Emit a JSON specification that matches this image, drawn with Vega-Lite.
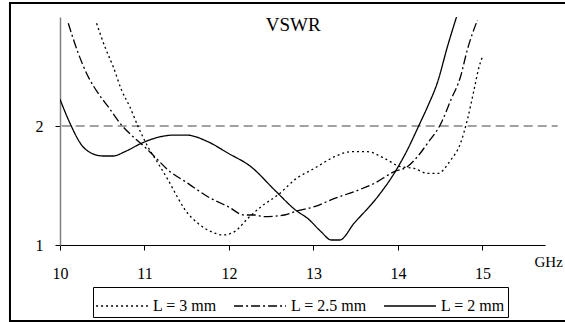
{
  "$schema": "https://vega.github.io/schema/vega-lite/v6.json",
  "width": 485,
  "height": 228,
  "autosize": "none",
  "padding": {"left": 60, "top": 17, "right": 20, "bottom": 77},
  "background": "white",
  "config": {
    "view": {"stroke": null},
    "font": "Liberation Serif",
    "axis": {"labelFont": "Liberation Serif", "titleFont": "Liberation Serif", "labelFontSize": 16, "titleFontSize": 15, "titleFontWeight": "normal", "labelColor": "black", "titleColor": "black"},
    "legend": {"labelFont": "Liberation Serif", "labelFontSize": 16, "labelColor": "black"}
  },
  "datasets": {
    "curves": [
      {"f": 10.433, "v": 2.863, "s": "L = 3 mm"},
      {"f": 10.531, "v": 2.666, "s": "L = 3 mm"},
      {"f": 10.63, "v": 2.498, "s": "L = 3 mm"},
      {"f": 10.728, "v": 2.303, "s": "L = 3 mm"},
      {"f": 10.826, "v": 2.162, "s": "L = 3 mm"},
      {"f": 10.925, "v": 1.994, "s": "L = 3 mm"},
      {"f": 11.04, "v": 1.826, "s": "L = 3 mm"},
      {"f": 11.16, "v": 1.687, "s": "L = 3 mm"},
      {"f": 11.28, "v": 1.546, "s": "L = 3 mm"},
      {"f": 11.4, "v": 1.39, "s": "L = 3 mm"},
      {"f": 11.476, "v": 1.3, "s": "L = 3 mm"},
      {"f": 11.633, "v": 1.182, "s": "L = 3 mm"},
      {"f": 11.79, "v": 1.112, "s": "L = 3 mm"},
      {"f": 11.93, "v": 1.084, "s": "L = 3 mm"},
      {"f": 12.066, "v": 1.112, "s": "L = 3 mm"},
      {"f": 12.223, "v": 1.224, "s": "L = 3 mm"},
      {"f": 12.38, "v": 1.322, "s": "L = 3 mm"},
      {"f": 12.577, "v": 1.42, "s": "L = 3 mm"},
      {"f": 12.8, "v": 1.56, "s": "L = 3 mm"},
      {"f": 13.01, "v": 1.644, "s": "L = 3 mm"},
      {"f": 13.25, "v": 1.742, "s": "L = 3 mm"},
      {"f": 13.44, "v": 1.784, "s": "L = 3 mm"},
      {"f": 13.64, "v": 1.784, "s": "L = 3 mm"},
      {"f": 13.84, "v": 1.728, "s": "L = 3 mm"},
      {"f": 14.03, "v": 1.658, "s": "L = 3 mm"},
      {"f": 14.19, "v": 1.644, "s": "L = 3 mm"},
      {"f": 14.35, "v": 1.602, "s": "L = 3 mm"},
      {"f": 14.47, "v": 1.602, "s": "L = 3 mm"},
      {"f": 14.625, "v": 1.714, "s": "L = 3 mm"},
      {"f": 14.74, "v": 1.855, "s": "L = 3 mm"},
      {"f": 14.82, "v": 2.05, "s": "L = 3 mm"},
      {"f": 14.9, "v": 2.303, "s": "L = 3 mm"},
      {"f": 14.96, "v": 2.498, "s": "L = 3 mm"},
      {"f": 15.0, "v": 2.582, "s": "L = 3 mm"},
      {"f": 10.098, "v": 2.863, "s": "L = 2.5 mm"},
      {"f": 10.216, "v": 2.611, "s": "L = 2.5 mm"},
      {"f": 10.334, "v": 2.414, "s": "L = 2.5 mm"},
      {"f": 10.452, "v": 2.275, "s": "L = 2.5 mm"},
      {"f": 10.57, "v": 2.162, "s": "L = 2.5 mm"},
      {"f": 10.728, "v": 2.008, "s": "L = 2.5 mm"},
      {"f": 10.885, "v": 1.897, "s": "L = 2.5 mm"},
      {"f": 11.0, "v": 1.826, "s": "L = 2.5 mm"},
      {"f": 11.12, "v": 1.742, "s": "L = 2.5 mm"},
      {"f": 11.28, "v": 1.63, "s": "L = 2.5 mm"},
      {"f": 11.515, "v": 1.518, "s": "L = 2.5 mm"},
      {"f": 11.75, "v": 1.406, "s": "L = 2.5 mm"},
      {"f": 11.99, "v": 1.322, "s": "L = 2.5 mm"},
      {"f": 12.18, "v": 1.252, "s": "L = 2.5 mm"},
      {"f": 12.3, "v": 1.252, "s": "L = 2.5 mm"},
      {"f": 12.42, "v": 1.238, "s": "L = 2.5 mm"},
      {"f": 12.66, "v": 1.252, "s": "L = 2.5 mm"},
      {"f": 12.8, "v": 1.285, "s": "L = 2.5 mm"},
      {"f": 13.01, "v": 1.322, "s": "L = 2.5 mm"},
      {"f": 13.25, "v": 1.392, "s": "L = 2.5 mm"},
      {"f": 13.48, "v": 1.448, "s": "L = 2.5 mm"},
      {"f": 13.72, "v": 1.518, "s": "L = 2.5 mm"},
      {"f": 13.955, "v": 1.616, "s": "L = 2.5 mm"},
      {"f": 14.11, "v": 1.658, "s": "L = 2.5 mm"},
      {"f": 14.23, "v": 1.742, "s": "L = 2.5 mm"},
      {"f": 14.35, "v": 1.855, "s": "L = 2.5 mm"},
      {"f": 14.51, "v": 2.023, "s": "L = 2.5 mm"},
      {"f": 14.625, "v": 2.218, "s": "L = 2.5 mm"},
      {"f": 14.74, "v": 2.414, "s": "L = 2.5 mm"},
      {"f": 14.82, "v": 2.639, "s": "L = 2.5 mm"},
      {"f": 14.94, "v": 2.89, "s": "L = 2.5 mm"},
      {"f": 10.0, "v": 2.224, "s": "L = 2 mm"},
      {"f": 10.118, "v": 2.023, "s": "L = 2 mm"},
      {"f": 10.256, "v": 1.84, "s": "L = 2 mm"},
      {"f": 10.374, "v": 1.771, "s": "L = 2 mm"},
      {"f": 10.511, "v": 1.748, "s": "L = 2 mm"},
      {"f": 10.629, "v": 1.748, "s": "L = 2 mm"},
      {"f": 10.767, "v": 1.784, "s": "L = 2 mm"},
      {"f": 10.965, "v": 1.855, "s": "L = 2 mm"},
      {"f": 11.12, "v": 1.897, "s": "L = 2 mm"},
      {"f": 11.36, "v": 1.924, "s": "L = 2 mm"},
      {"f": 11.496, "v": 1.924, "s": "L = 2 mm"},
      {"f": 11.75, "v": 1.868, "s": "L = 2 mm"},
      {"f": 11.99, "v": 1.771, "s": "L = 2 mm"},
      {"f": 12.26, "v": 1.658, "s": "L = 2 mm"},
      {"f": 12.54, "v": 1.462, "s": "L = 2 mm"},
      {"f": 12.8, "v": 1.287, "s": "L = 2 mm"},
      {"f": 12.93, "v": 1.224, "s": "L = 2 mm"},
      {"f": 13.09, "v": 1.112, "s": "L = 2 mm"},
      {"f": 13.21, "v": 1.042, "s": "L = 2 mm"},
      {"f": 13.31, "v": 1.042, "s": "L = 2 mm"},
      {"f": 13.48, "v": 1.182, "s": "L = 2 mm"},
      {"f": 13.76, "v": 1.406, "s": "L = 2 mm"},
      {"f": 13.955, "v": 1.602, "s": "L = 2 mm"},
      {"f": 14.11, "v": 1.798, "s": "L = 2 mm"},
      {"f": 14.25, "v": 2.008, "s": "L = 2 mm"},
      {"f": 14.35, "v": 2.162, "s": "L = 2 mm"},
      {"f": 14.47, "v": 2.372, "s": "L = 2 mm"},
      {"f": 14.585, "v": 2.666, "s": "L = 2 mm"},
      {"f": 14.7, "v": 2.933, "s": "L = 2 mm"}
    ]
  },
  "layer": [
    {
      "data": {"values": [{"x1": 9.408, "x2": 16.1, "y1": 0.361, "y2": 3.034}]},
      "mark": {"type": "rect", "fill": null, "stroke": "black", "strokeWidth": 2, "clip": false},
      "encoding": {
        "x": {"field": "x1", "type": "quantitative", "scale": {"domain": [10, 15.74], "nice": false, "zero": false}},
        "x2": {"field": "x2"},
        "y": {"field": "y1", "type": "quantitative", "scale": {"domain": [1, 2.916], "nice": false, "zero": false}},
        "y2": {"field": "y2"}
      }
    },
    {
      "data": {"values": [{"x1": 10.02, "x2": 15.89, "y": 2}]},
      "mark": {"type": "rule", "stroke": "#444444", "strokeWidth": 1, "strokeDash": [9, 5], "clip": false},
      "encoding": {
        "x": {"field": "x1", "type": "quantitative"},
        "x2": {"field": "x2"},
        "y": {"field": "y", "type": "quantitative"}
      }
    },
    {
      "data": {"values": [{"x": 12.76, "y": 2.8, "t": "VSWR"}]},
      "mark": {"type": "text", "font": "Liberation Serif", "fontSize": 19, "baseline": "alphabetic", "align": "center", "color": "black"},
      "encoding": {
        "x": {"field": "x", "type": "quantitative"},
        "y": {"field": "y", "type": "quantitative"},
        "text": {"field": "t"}
      }
    },
    {
      "data": {"name": "curves"},
      "mark": {"type": "line", "color": "black", "strokeWidth": 1.3, "clip": true, "interpolate": "monotone"},
      "encoding": {
        "x": {"field": "f", "type": "quantitative",
          "axis": {"title": "GHz", "values": [10, 11, 12, 13, 14, 15], "format": "d", "grid": false, "domainColor": "black", "tickColor": "black", "tickSize": 5, "labelPadding": 15, "titleAlign": "left", "titleAnchor": "start", "titleX": 474, "titleY": 21, "titleBaseline": "alphabetic", "labelFlush": false}},
        "y": {"field": "v", "type": "quantitative",
          "axis": {"title": null, "values": [1, 2], "format": "d", "grid": false, "domainColor": "#808080", "domainWidth": 1.5, "tickColor": "black", "tickSize": 5, "labelPadding": 12}},
        "strokeDash": {"field": "s", "type": "nominal",
          "scale": {"domain": ["L = 3 mm", "L = 2.5 mm", "L = 2 mm"], "range": [[2, 3], [9, 3, 2, 3], [1, 0]]},
          "legend": {"title": null, "orient": "none", "direction": "horizontal", "legendX": 33, "legendY": 270, "symbolType": "M-1.73,0H1.73", "symbolSize": 900, "symbolOffset": 10, "symbolStrokeColor": "black", "symbolStrokeWidth": 1.3, "strokeColor": "black", "padding": 3, "columnPadding": 14, "labelOffset": 15}},
        "order": {"field": "f", "type": "quantitative"}
      }
    }
  ]
}
